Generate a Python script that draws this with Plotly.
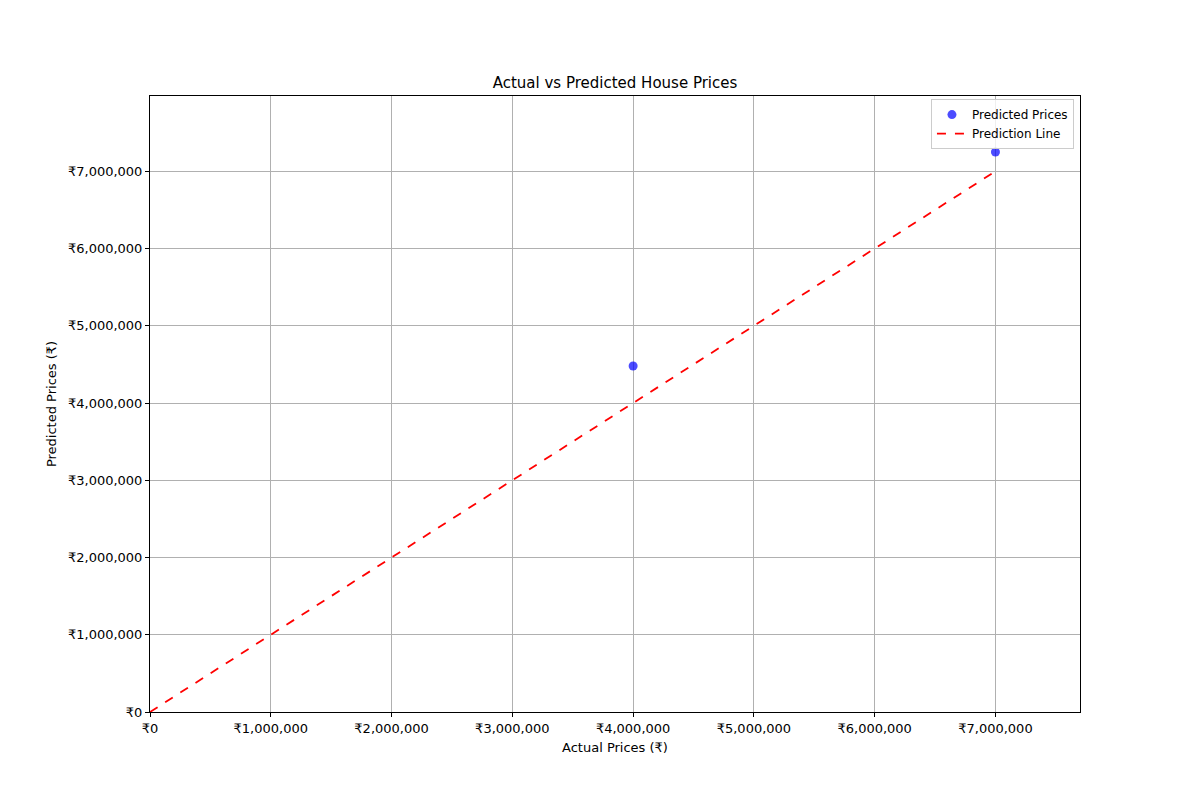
import plotly.graph_objects as go

actual = [4000000, 7000000]
predicted = [4480000, 7250000]
line_x = [0, 7000000]
line_y = [0, 7000000]
tick_vals = [0, 1000000, 2000000, 3000000, 4000000, 5000000, 6000000, 7000000]
tick_text = ["₹{:,}".format(v) for v in tick_vals]

fig = go.Figure()
fig.add_trace(go.Scatter(
    x=actual, y=predicted, mode="markers", name="Predicted Prices",
    marker=dict(color="rgba(0,0,255,0.7)", size=9),
))
fig.add_trace(go.Scatter(
    x=line_x, y=line_y, mode="lines", name="Prediction Line",
    line=dict(color="red", dash="dash", width=1.8),
))

axis_common = dict(
    showline=True, linecolor="black", linewidth=1, mirror=True,
    ticks="outside", ticklen=4, tickcolor="black",
    showgrid=True, gridcolor="#b0b0b0", gridwidth=1,
    zeroline=False, tickmode="array",
    tickvals=tick_vals, ticktext=tick_text,
    tickfont=dict(family="DejaVu Sans", size=13, color="black"),
)

fig.update_layout(
    width=1200, height=800,
    paper_bgcolor="white", plot_bgcolor="white",
    margin=dict(l=142, r=128, t=88, b=96),
    title=dict(text="Actual vs Predicted House Prices", x=(615 - 8) / 1200, xanchor="center",
               y=1 - 75/800, yanchor="middle",
               font=dict(family="DejaVu Sans", size=15, color="black")),
    xaxis=dict(range=[0, 7700000], title=dict(text="Actual Prices (₹)", standoff=8,
               font=dict(family="DejaVu Sans", size=13, color="black")), **axis_common),
    yaxis=dict(range=[0, 7975000], title=dict(text="Predicted Prices (₹)", standoff=8,
               font=dict(family="DejaVu Sans", size=13, color="black")), **axis_common),
    legend=dict(x=0.9935, y=0.995, xanchor="right", yanchor="top",
                bgcolor="rgba(255,255,255,0.8)", bordercolor="#cccccc", borderwidth=1,
                font=dict(family="DejaVu Sans", size=12, color="black"),
                tracegroupgap=0, itemwidth=30),
    showlegend=True,
)

fig.write_html("out.html")
